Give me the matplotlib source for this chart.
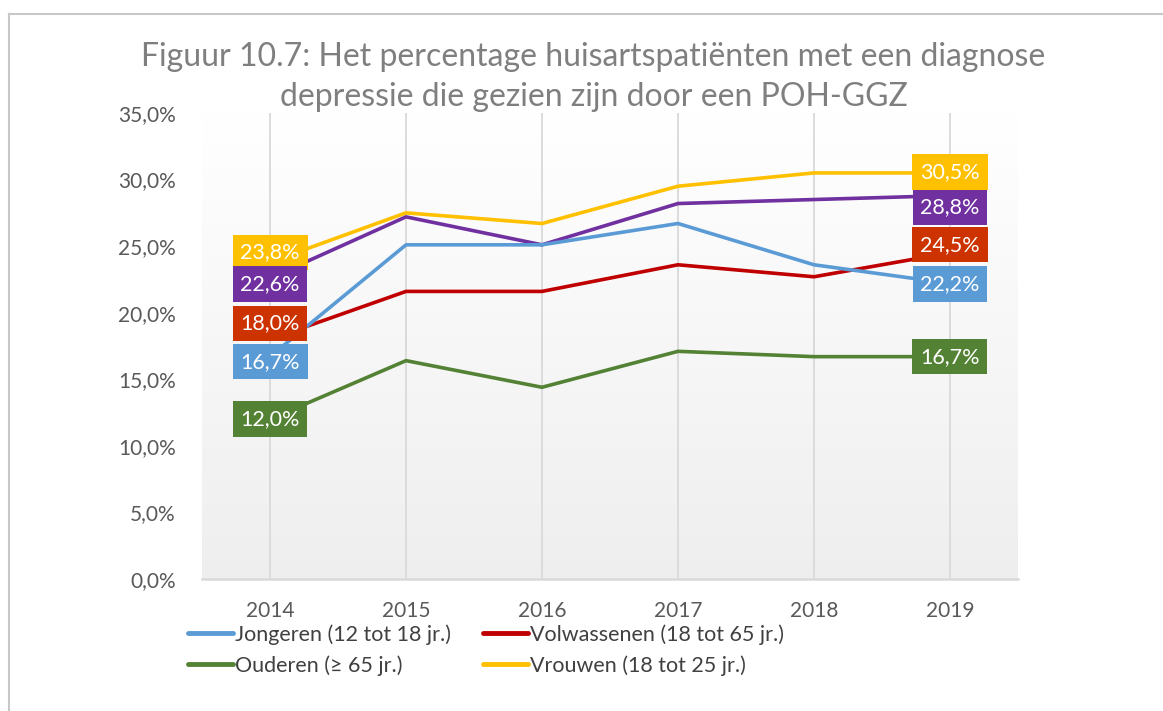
import numpy as np
import matplotlib
matplotlib.use("Agg")
import matplotlib.pyplot as plt
from matplotlib.lines import Line2D

years = ["2014", "2015", "2016", "2017", "2018", "2019"]
jongeren = [16.7, 25.1, 25.1, 26.7, 23.6, 22.2]
volwassenen = [18.0, 21.6, 21.6, 23.6, 22.7, 24.5]
ouderen = [12.0, 16.4, 14.4, 17.1, 16.7, 16.7]
vrouwen = [23.8, 27.5, 26.7, 29.5, 30.5, 30.5]
paars = [22.6, 27.2, 25.1, 28.2, 28.5, 28.8]
yticks = [0, 5, 10, 15, 20, 25, 30, 35]
title_lines = ["Figuur 10.7: Het percentage huisartspatiënten met een diagnose",
               "depressie die gezien zijn door een POH-GGZ"]

plt.rcParams['font.family'] = ['Lato', 'DejaVu Sans']

fig = plt.figure(figsize=(11.63, 7.11), dpi=100)
W, H = 1163, 711
ax = fig.add_axes([202 / W, 1 - 579 / H, (1018 - 202) / W, (579 - 113) / H])

# gradient background
grad = np.linspace(1.0, 0.935, 256).reshape(-1, 1)
ax.imshow(np.dstack([grad, grad, grad]), extent=[0, 1, 0, 1], transform=ax.transAxes,
          aspect='auto', zorder=0, interpolation='bicubic')

x = np.arange(len(years))
series = [
    (vrouwen, "#FFC000", "#FFC000", "Vrouwen (18 tot 25 jr.)", 7, 0.5, 5),
    (paars, "#7030A0", "#7030A0", None, -4.3, -8.6, 6),
    (volwassenen, "#C00000", "#CC3300", "Volwassenen (18 tot 65 jr.)", 11.5, 5.8, 7),
    (jongeren, "#5B9BD5", "#5B9BD5", "Jongeren (12 tot 18 jr.)", -3.6, -0.5, 8),
    (ouderen, "#548235", "#548235", "Ouderen (\u2265 65 jr.)", 0, 0, 9),
]
handles = {}
for vals, lc, bc, lab, off0, off5, zl in series:
    ln, = ax.plot(x, vals, color=lc, lw=2.6, zorder=3, solid_capstyle='round')
    if lab:
        handles[lab] = ln
    for i, off in ((0, off0), (5, off5)):
        ax.annotate(f"{vals[i]:.1f}%".replace('.', ','), (x[i], vals[i]),
                    xytext=(0, off), textcoords='offset points',
                    ha='center', va='center', fontsize=15.5, color='white',
                    zorder=zl,
                    bbox=dict(boxstyle='square,pad=0.36', fc=bc, ec='none'))

ax.set_xlim(-0.5, 5.5)
ax.set_ylim(0, 35)
ax.set_yticks(yticks)
ax.set_yticklabels([f"{v:.1f}%".replace('.', ',') for v in yticks])
ax.set_xticks(x)
ax.set_xticklabels(years)
ax.tick_params(axis='both', length=0, labelsize=15, colors='#595959')
ax.tick_params(axis='x', pad=16)
ax.tick_params(axis='y', pad=19)
for xi in x:
    ax.axvline(xi, color='#D9D9D9', lw=1.3, zorder=1)
for s in ['top', 'right', 'left']:
    ax.spines[s].set_visible(False)
ax.spines['bottom'].set_color('#D9D9D9')
ax.spines['bottom'].set_linewidth(1.8)

for yy, line in zip([57, 97], title_lines):
    fig.text(0.5 + 12 / W, 1 - yy / H, line, ha='center', va='center',
             fontsize=23, color='#7F7F7F')

order = ["Jongeren (12 tot 18 jr.)", "Ouderen (\u2265 65 jr.)",
         "Volwassenen (18 tot 65 jr.)", "Vrouwen (18 tot 25 jr.)"]
leg = fig.legend([handles[k] for k in order], order, ncol=2, loc='upper left',
                 bbox_to_anchor=(188 / W, 1 - 624 / H), frameon=False,
                 fontsize=15.5, handlelength=2.1, handletextpad=0.1,
                 columnspacing=1.45, labelspacing=0.5, borderaxespad=0,
                 borderpad=0)
for t in leg.get_texts():
    t.set_color('#404040')
for h in leg.legend_handles:
    h.set_linewidth(3.5)

# chart frame
fig.add_artist(Line2D([9 / W, 9 / W], [0, 1 - 14 / H], transform=fig.transFigure, color='#C8C8C8', lw=1.5))
fig.add_artist(Line2D([9 / W, 1], [1 - 14 / H, 1 - 14 / H], transform=fig.transFigure, color='#C8C8C8', lw=1.5))

fig.savefig("out.png", dpi=100)
